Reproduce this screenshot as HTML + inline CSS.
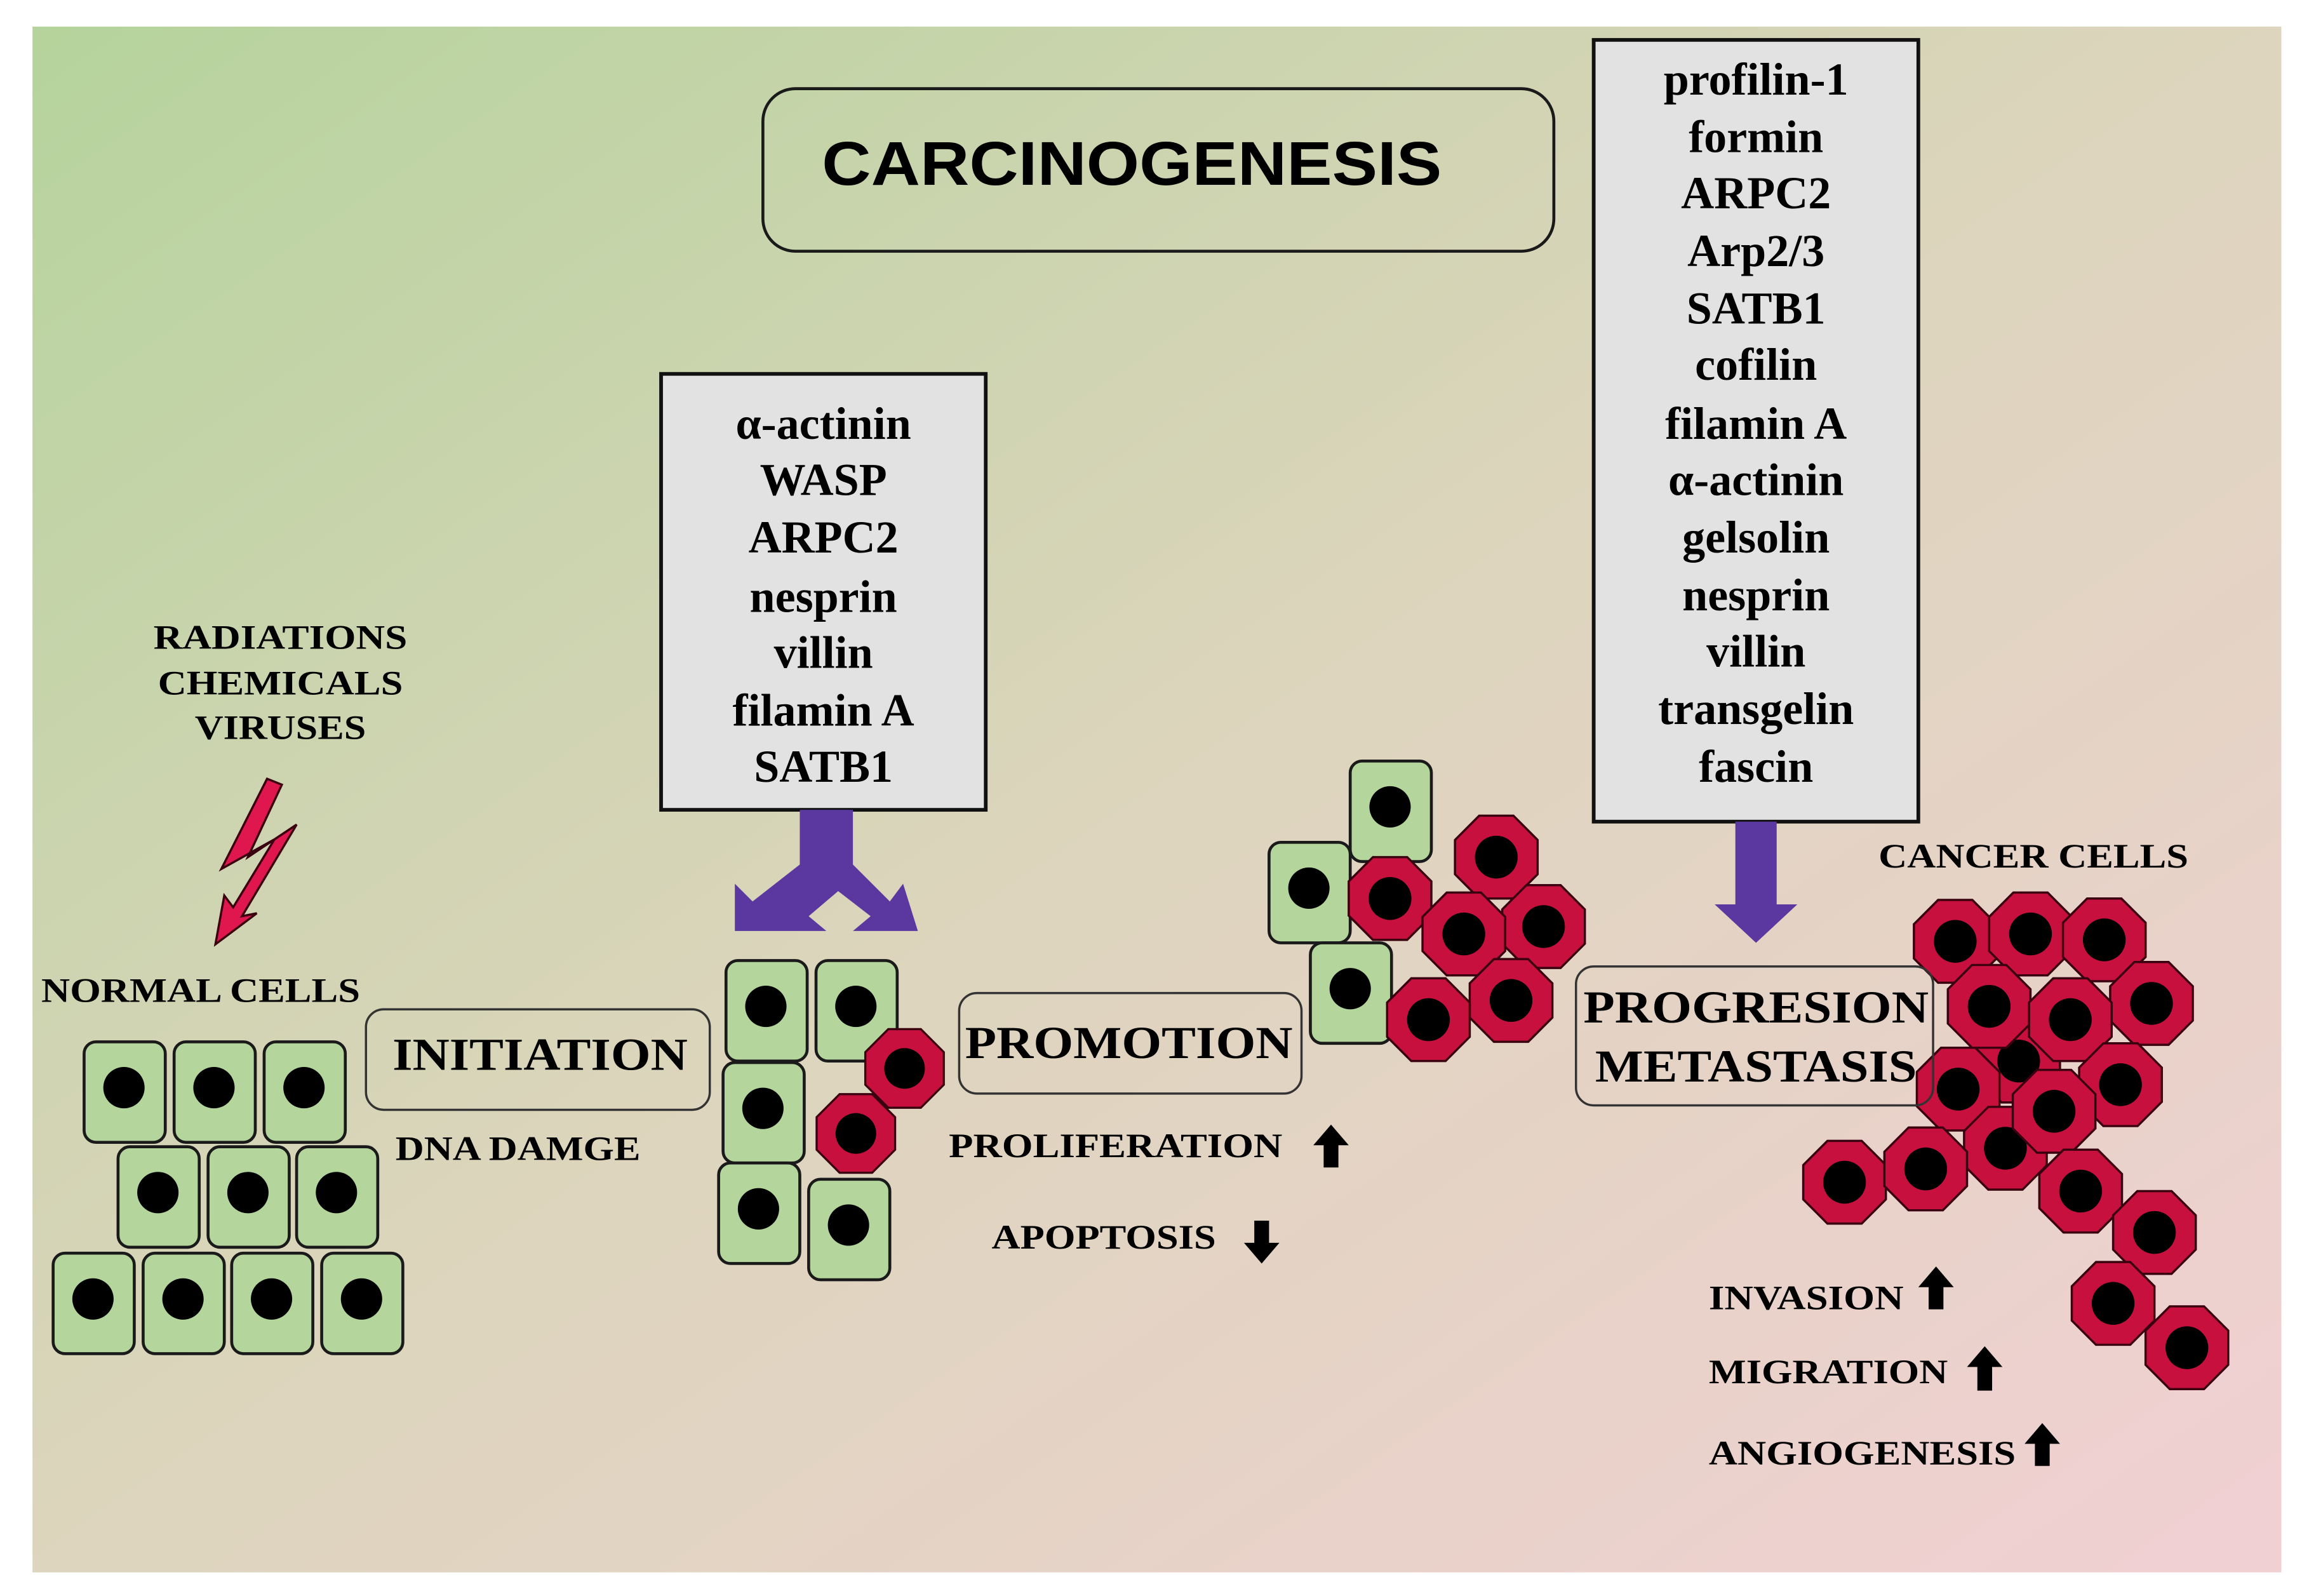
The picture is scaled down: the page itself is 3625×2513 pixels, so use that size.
<!DOCTYPE html>
<html><head><meta charset="utf-8"><style>html,body{margin:0;padding:0;background:#fff}svg{display:block}</style></head>
<body>
<svg width="3625" height="2513" viewBox="0 0 1560 1080" preserveAspectRatio="none" xmlns="http://www.w3.org/2000/svg">
<defs>
<linearGradient id="bg" x1="0" y1="0" x2="1" y2="1">
<stop offset="0" stop-color="#b5d39c"/>
<stop offset="0.5" stop-color="#ddd5bd"/>
<stop offset="1" stop-color="#f1d0d3"/>
</linearGradient>
<g id="gc"><rect x="0" y="0" width="55" height="68" rx="8" fill="#b4d69d" stroke="#1a1a1a" stroke-width="2"/><circle cx="27" cy="31" r="14" fill="#000"/></g>
<g id="rc"><polygon points="-11.6,-28 11.6,-28 28,-11.6 28,11.6 11.6,28 -11.6,28 -28,11.6 -28,-11.6" fill="#c8103e" stroke="#3a0010" stroke-width="1.5"/><circle cx="0" cy="0" r="14.5" fill="#000"/></g>
</defs>
<rect x="0" y="0" width="1560" height="1080" fill="#fff"/>
<rect x="22" y="18" width="1524" height="1046" fill="url(#bg)"/>

<!-- title -->
<rect x="517" y="60" width="536" height="110" rx="22" fill="none" stroke="#1a1a1a" stroke-width="2"/>
<text x="767" y="125" font-family="Liberation Sans, sans-serif" font-weight="bold" font-size="42" text-anchor="middle" textLength="420" lengthAdjust="spacingAndGlyphs">CARCINOGENESIS</text>

<g font-family="Liberation Serif, serif" font-weight="bold" fill="#000">
<!-- left box -->
<rect x="448" y="253" width="220" height="295" fill="#e2e2e2" stroke="#111" stroke-width="2.5"/>
<g font-size="31" text-anchor="middle">
<text x="558" y="297">α-actinin</text>
<text x="558" y="335">WASP</text>
<text x="558" y="374">ARPC2</text>
<text x="558" y="414">nesprin</text>
<text x="558" y="452">villin</text>
<text x="558" y="491">filamin A</text>
<text x="558" y="529">SATB1</text>
</g>
<!-- right box -->
<rect x="1080" y="27" width="220" height="529" fill="#e2e2e2" stroke="#111" stroke-width="2.5"/>
<g font-size="31" text-anchor="middle">
<text x="1190" y="64">profilin-1</text>
<text x="1190" y="103">formin</text>
<text x="1190" y="141">ARPC2</text>
<text x="1190" y="180">Arp2/3</text>
<text x="1190" y="219">SATB1</text>
<text x="1190" y="257">cofilin</text>
<text x="1190" y="297">filamin A</text>
<text x="1190" y="335">α-actinin</text>
<text x="1190" y="374">gelsolin</text>
<text x="1190" y="413">nesprin</text>
<text x="1190" y="451">villin</text>
<text x="1190" y="490">transgelin</text>
<text x="1190" y="529">fascin</text>
</g>

<!-- purple arrows -->
<polygon points="542,548 578,548 578,585 603,610 612,598 622,630 578,630 590,620 568,603 548,620 560,630 498,630 498,598 510,610 542,585" fill="#5b38a0"/>
<polygon points="1176,556 1204,556 1204,612 1218,612 1190,638 1162,612 1176,612" fill="#5b38a0"/>

<!-- lightning -->
<polygon points="181,527 191,531 168,580 201,558 164,620 174,618 146,639 152,606 158,614 186,568 150,588" fill="#e0174e" stroke="#3a0010" stroke-width="1.5"/>

<!-- labels -->
<g font-size="23">
<text x="190" y="439" text-anchor="middle" textLength="172" lengthAdjust="spacingAndGlyphs">RADIATIONS</text>
<text x="190" y="470" text-anchor="middle" textLength="166" lengthAdjust="spacingAndGlyphs">CHEMICALS</text>
<text x="190" y="500" text-anchor="middle" textLength="116" lengthAdjust="spacingAndGlyphs">VIRUSES</text>
<text x="28" y="678" textLength="216" lengthAdjust="spacingAndGlyphs">NORMAL CELLS</text>
<text x="268" y="785" textLength="166" lengthAdjust="spacingAndGlyphs">DNA DAMGE</text>
<text x="643" y="783" textLength="226" lengthAdjust="spacingAndGlyphs">PROLIFERATION</text>
<text x="672" y="845" textLength="152" lengthAdjust="spacingAndGlyphs">APOPTOSIS</text>
<text x="1273" y="587" textLength="210" lengthAdjust="spacingAndGlyphs">CANCER CELLS</text>
<text x="1158" y="886" textLength="132" lengthAdjust="spacingAndGlyphs">INVASION</text>
<text x="1158" y="936" textLength="162" lengthAdjust="spacingAndGlyphs">MIGRATION</text>
<text x="1158" y="991" textLength="208" lengthAdjust="spacingAndGlyphs">ANGIOGENESIS</text>
</g>

<!-- up/down arrows -->
<g fill="#000">
<polygon points="902,761 914,775 907,775 907,790 897,790 897,775 890,775"/>
<polygon points="850,826 860,826 860,841 867,841 855,855 843,841 850,841"/>
<polygon points="1312,857 1324,871 1317,871 1317,886 1307,886 1307,871 1300,871"/>
<polygon points="1345,911 1357,925 1350,925 1350,941 1340,941 1340,925 1333,925"/>
<polygon points="1384,963 1396,977 1389,977 1389,992 1379,992 1379,977 1372,977"/>
</g>
</g>

<!-- normal cells -->
<use href="#gc" x="57" y="705"/><use href="#gc" x="118" y="705"/><use href="#gc" x="179" y="705"/>
<use href="#gc" x="80" y="776"/><use href="#gc" x="141" y="776"/><use href="#gc" x="201" y="776"/>
<use href="#gc" x="36" y="848"/><use href="#gc" x="97" y="848"/><use href="#gc" x="157" y="848"/><use href="#gc" x="218" y="848"/>

<!-- initiation cluster -->
<use href="#gc" x="492" y="650"/><use href="#gc" x="553" y="650"/>
<use href="#gc" x="490" y="719"/><use href="#gc" x="487" y="787"/><use href="#gc" x="548" y="798"/>
<use href="#rc" transform="translate(613,723) scale(0.95)"/>
<use href="#rc" transform="translate(580,767) scale(0.95)"/>

<!-- promotion cluster -->
<use href="#gc" x="915" y="515"/><use href="#gc" x="860" y="570"/><use href="#gc" x="888" y="638"/>
<use href="#rc" transform="translate(1014,580)"/>
<use href="#rc" transform="translate(942,608)"/>
<use href="#rc" transform="translate(1046,627)"/>
<use href="#rc" transform="translate(992,632)"/>
<use href="#rc" transform="translate(1024,677)"/>
<use href="#rc" transform="translate(968,690)"/>

<!-- cancer cluster -->
<use href="#rc" transform="translate(1368,718)"/>
<use href="#rc" transform="translate(1325,637)"/>
<use href="#rc" transform="translate(1376,632)"/>
<use href="#rc" transform="translate(1426,636)"/>
<use href="#rc" transform="translate(1458,679)"/>
<use href="#rc" transform="translate(1348,681)"/>
<use href="#rc" transform="translate(1403,690)"/>
<use href="#rc" transform="translate(1437,734)"/>
<use href="#rc" transform="translate(1327,737)"/>
<use href="#rc" transform="translate(1359,777)"/>
<use href="#rc" transform="translate(1392,752)"/>
<use href="#rc" transform="translate(1250,800)"/>
<use href="#rc" transform="translate(1305,791)"/>
<use href="#rc" transform="translate(1410,806)"/>
<use href="#rc" transform="translate(1460,834)"/>
<use href="#rc" transform="translate(1432,882)"/>
<use href="#rc" transform="translate(1482,912)"/>

<!-- stage boxes -->
<g font-family="Liberation Serif, serif" font-weight="bold" fill="#000">
<rect x="248" y="683" width="233" height="68" rx="12" fill="none" stroke="#333" stroke-width="1.5"/>
<text x="366" y="724" font-size="31" text-anchor="middle" textLength="200" lengthAdjust="spacingAndGlyphs">INITIATION</text>
<rect x="650" y="672" width="232" height="68" rx="12" fill="none" stroke="#333" stroke-width="1.5"/>
<text x="765" y="716" font-size="31" text-anchor="middle" textLength="222" lengthAdjust="spacingAndGlyphs">PROMOTION</text>
<rect x="1068" y="654" width="242" height="94" rx="12" fill="none" stroke="#333" stroke-width="1.5"/>
<text x="1190" y="692" font-size="31" text-anchor="middle" textLength="234" lengthAdjust="spacingAndGlyphs">PROGRESION</text>
<text x="1190" y="732" font-size="31" text-anchor="middle" textLength="218" lengthAdjust="spacingAndGlyphs">METASTASIS</text>
</g>
</svg>
</body></html>
